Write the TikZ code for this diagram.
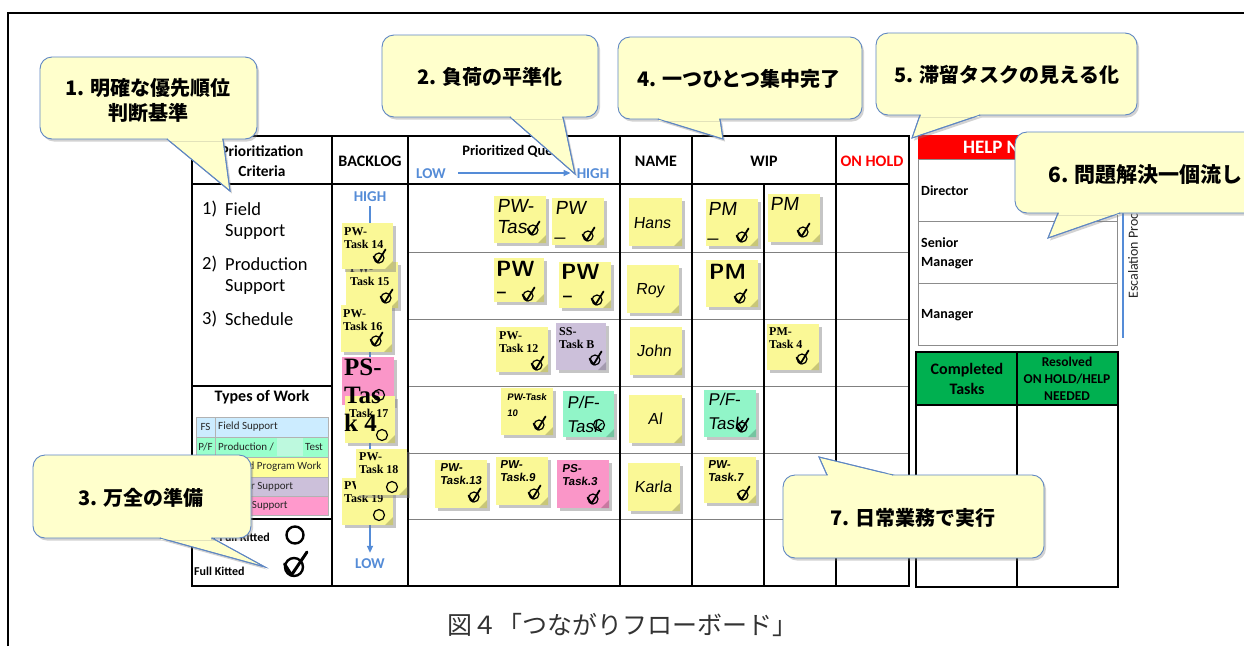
\documentclass[tikz,border=0pt]{standalone}
\usepackage{fontspec}
\setmainfont{Carlito}
\newfontfamily\cjk{Noto Sans CJK JP}
\newfontfamily\srf{Liberation Serif}
\newfontfamily\hand{Liberation Sans}[FakeSlant=0.12]
\usetikzlibrary{shadows,arrows.meta}
\definecolor{cfill}{RGB}{255,255,204}
\definecolor{cline}{RGB}{95,135,195}
\definecolor{sy}{RGB}{250,248,150}
\definecolor{sp}{RGB}{250,150,200}
\definecolor{su}{RGB}{204,192,218}
\definecolor{sg}{RGB}{145,245,200}
\definecolor{lfs}{RGB}{204,236,255}
\definecolor{lpf}{RGB}{153,255,204}
\definecolor{lpw}{RGB}{255,255,153}
\definecolor{lss}{RGB}{204,192,218}
\definecolor{lps}{RGB}{255,153,204}
\definecolor{qblue}{RGB}{85,140,215}
\definecolor{hred}{RGB}{255,0,0}
\definecolor{hgreen}{RGB}{0,176,80}
\definecolor{rowgray}{RGB}{128,128,128}
\tikzset{
  callout/.style={fill=cfill, draw=cline, line width=0.9pt, drop shadow={shadow xshift=2pt,shadow yshift=-2.5pt,opacity=0.35}},
  ctext/.style={font=\cjk\bfseries\fontsize{20}{25}\selectfont, align=center, inner sep=0},
  stickybox/.style={draw=none, inner sep=0, drop shadow={shadow xshift=2.5pt, shadow yshift=-3pt, opacity=0.45}},
  serifl/.style={font=\srf\bfseries\fontsize{12}{13}\selectfont, anchor=north west, inner sep=0, align=left},
  handl/.style={font=\hand\fontsize{19}{21}\selectfont, anchor=north west, inner sep=0, align=left},
  handb/.style={font=\hand\bfseries\fontsize{11.5}{13}\selectfont, anchor=north west, inner sep=0, align=left},
  boldpw/.style={font=\sffamily\bfseries\fontsize{22}{24}\selectfont, anchor=north west, inner sep=0, align=left},
  namel/.style={font=\hand\fontsize{16}{18}\selectfont, inner sep=0},
  hdr/.style={font=\bfseries\fontsize{16}{18}\selectfont, inner sep=0, align=center},
  bluet/.style={font=\bfseries\fontsize{15}{17}\selectfont, text=qblue, inner sep=0},
  crit/.style={font=\fontsize{18.5}{20}\selectfont, anchor=west, inner sep=0},
  legt/.style={font=\fontsize{11}{12}\selectfont, text=black!85, inner sep=0},
  mgrt/.style={font=\bfseries\fontsize{14}{19}\selectfont, anchor=west, align=left, inner sep=0},
  chk/.pic={\draw[line width=1.2pt] (0,0) circle (5);
            \draw[line width=1.8pt, line cap=round, line join=round] (-5.5,-1.5) -- (-1.5,4.5) -- (6.5,-8.5);},
  bigchk/.pic={\draw[line width=2.4pt] (0,0) circle (9);
            \draw[line width=3pt, line cap=round, line join=round] (-9.5,-3) -- (-2.5,8) -- (13,-15);},
  ring/.pic={\draw[line width=1.2pt] (0,0) circle (5.5);}
}
\newcommand\callout[9]{%
  \path[callout] (#7,#6) -- (#8) -- (#9,#6) -- cycle;
  \node[callout, rounded corners=12pt, inner sep=0, minimum width={#4-#2}, minimum height={#5-#3}] (#1) at ({(#2+#4)/2},{(#3+#5)/2}) {};
  \fill[cfill] ({#7+1.4},{#6-1.6}) rectangle ({#9-1.4},{#6+1.6});
  \draw[cline, line width=0.9pt] (#7,#6) -- (#8) -- (#9,#6);
}
\newcommand\sticky[6]{%
  \node[stickybox, fill=#6, minimum width={#4-#2}, minimum height={#5-#3}] (#1) at ({(#2+#4)/2},{(#3+#5)/2}) {};
  \fill[#6!80!black] ({#4-8},#5) -- (#4,#5) -- (#4,{#5-8}) -- cycle;
}
\begin{document}
\begin{tikzpicture}[x=1pt,y=-1pt]
\useasboundingbox (0,0) rectangle (1244,646);
\clip (0,0) rectangle (1244,646);
\fill[white] (0,0) rectangle (1244,646);
\draw[line width=1.5pt] (8,646) -- (8,13) -- (1244,13);

% ---------- board grid
\foreach \y in {252,319,386,453,519} \draw[rowgray, line width=1pt] (408,\y) -- (909,\y);
\draw[line width=1.3pt] (192,136) rectangle (909,586);
\foreach \x in {332,408,620,692,836} \draw[line width=1.3pt] (\x,136) -- (\x,586);
\draw[line width=1.3pt] (764,184) -- (764,586);
\draw[line width=1.3pt] (192,184) -- (909,184);
\draw[line width=1.3pt] (192,386) -- (332,386) (192,519) -- (332,519);

% ---------- headers
\node[hdr, font=\bfseries\fontsize{15.4}{20}\selectfont] (hprio) at (262,161) {Prioritization\\Criteria};
\node[hdr] (hback) at (370,161) {BACKLOG};
\node[hdr, font=\bfseries\fontsize{14.5}{16}\selectfont] (hqueue) at (515,151) {Prioritized Queue};
\node[bluet] (qlow) at (431,174) {LOW};
\node[bluet] (qhigh) at (593,174) {HIGH};
\draw[qblue, line width=1.6pt, -{Triangle[length=7pt,width=6pt]}] ([xshift=12pt,yshift=1pt]qlow.east) -- ([xshift=-6pt,yshift=1pt]qhigh.west);
\node[hdr] (hname) at (656,161) {NAME};
\node[hdr] (hwip) at (764,161) {WIP};
\node[hdr, text=hred] (hhold) at (872,161) {ON HOLD};

% ---------- criteria
\node[crit] (c1n) at (202,209) {1)};
\node[crit] (c1a) at (225,209) {Field};
\node[crit] (c1b) at (225,232) {Support};
\node[crit] (c2n) at (202,264) {2)};
\node[crit] (c2a) at (225,264) {Production};
\node[crit] (c2b) at (225,287) {Support};
\node[crit] (c3n) at (202,319) {3)};
\node[crit] (c3a) at (225,319) {Schedule};

% ---------- types of work legend
\node[hdr, font=\bfseries\fontsize{16}{18}\selectfont] (tow) at (262,397) {Types of Work};
\fill[lfs] (196,417) rectangle (328,437);
\fill[lpf] (196,437) rectangle (328,457);
\fill[lpw] (196,457) rectangle (328,477);
\fill[lss] (196,477) rectangle (328,496);
\fill[lps] (196,496) rectangle (328,515);
\fill[sg!60!white] (277,438) rectangle (303,456);
\draw[black!30, line width=0.6pt] (196,417) rectangle (328,515) (215,417) -- (215,515)
  (196,437) -- (328,437) (196,457) -- (328,457) (196,477) -- (328,477) (196,496) -- (328,496);
\node[legt] (lfsA) at (205.5,427) {FS};
\node[legt, anchor=west] (lfsB) at (218,427) {Field Support};
\node[legt] (lpfA) at (205.5,447) {P/F};
\node[legt, anchor=west] (lpfB) at (218,447) {Production /};
\node[legt, anchor=west] (lpfC) at (305,447) {Test};
\node[legt, anchor=west] (lpwB) at (218,467) {Planned Program Work};
\node[legt, anchor=west] (lssB) at (218,486.5) {Supplier Support};
\node[legt, anchor=west] (lpsB) at (218,505.5) {Special Support};

% ---------- kitted
\node[legt, font=\bfseries\fontsize{12}{13}\selectfont, text=black, anchor=east] (nfk) at (270,537) {Not Full Kitted};
\draw[line width=2.4pt] (295,535) circle (8.5);
\node[legt, font=\bfseries\fontsize{12}{13}\selectfont, text=black, anchor=west] (fk) at (194,571) {Full Kitted};
\pic at (294,567) {bigchk};

% ---------- backlog
\node[bluet] (bhigh) at (370,197) {HIGH};
\node[bluet] (blow) at (370,564) {LOW};
\draw[qblue, line width=1.6pt, -{Triangle[length=7pt,width=6pt]}] ([yshift=-4pt]bhigh.south) -- ([yshift=6pt]blow.north);

\sticky{b15}{346}{262}{398}{308}{sy}
\node[serifl] (b15t) at (350,264) {PW-\\Task 15};
\pic at (386,298) {chk};
\sticky{b14}{342}{223}{393}{269}{sy}
\node[serifl] (b14t) at (344,227) {PW-\\Task 14};
\pic at (379,258) {chk};
\sticky{b16}{341}{305}{392}{352}{sy}
\node[serifl] (b16t) at (343,309) {PW-\\Task 16};
\pic at (376,341) {chk};
\sticky{bps}{342}{357}{394}{405}{sp}
\sticky{b17}{345}{396}{395}{443}{sy}
\node[serifl] (b17t) at (349,409) {Task 17};
\pic at (382,435) {ring};
\node[serifl, font=\srf\bfseries\fontsize{25}{28}\selectfont] (bpst) at (344,359) {PS-\\Tas\\k 4};
\pic at (379,395) {ring};
\sticky{b19}{342}{478}{393}{525}{sy}
\node[serifl] (b19t) at (344,481) {PW-\\Task 19};
\pic at (379,515) {ring};
\sticky{b18}{356}{449}{407}{495}{sy}
\node[serifl] (b18t) at (359,452) {PW-\\Task 18};
\pic at (392,487) {ring};

% ---------- queue
\sticky{q1a}{494}{196}{546}{243}{sy}
\node[handl] (q1at) at (497,199) {PW-\\Tas};
\pic at (533,230) {chk};
\sticky{q1b}{552}{198}{604}{245}{sy}
\node[handl] (q1bt) at (555,201) {PW\\\_};
\pic at (588,236) {chk};
\sticky{q2a}{494}{258}{544}{302}{sy}
\node[boldpw] (q2at) at (496,261) {PW};
\node[boldpw, font=\sffamily\bfseries\fontsize{12}{12}\selectfont] (q2au) at (497,291) {\_};
\pic at (528,296) {chk};
\sticky{q2b}{559}{262}{611}{308}{sy}
\node[boldpw] (q2bt) at (561,264) {PW};
\node[boldpw, font=\sffamily\bfseries\fontsize{12}{12}\selectfont] (q2bu) at (563,295) {\_};
\pic at (597,300) {chk};
\sticky{q3a}{496}{327}{548}{372}{sy}
\node[serifl] (q3at) at (499,331) {PW-\\Task 12};
\pic at (537,365) {chk};
\sticky{q3b}{556}{323}{606}{370}{su}
\node[serifl] (q3bt) at (559,327) {SS-\\Task B};
\pic at (595,360) {chk};
\sticky{q4a}{501}{388}{553}{435}{sy}
\node[handb, font=\hand\bfseries\fontsize{9.5}{16}\selectfont] (q4at) at (507,393) {PW-Task\\10};
\pic at (539,425) {chk};
\sticky{q4b}{563}{391}{614}{437}{sg}
\node[handl, font=\hand\fontsize{17}{24}\selectfont] (q4bt) at (567,396) {P/F-\\Task};
\pic at (599,425) {ring};
\sticky{q5a}{435}{460}{487}{508}{sy}
\node[handb] (q5at) at (440,463) {PW-\\Task.13};
\pic at (474,497) {chk};
\sticky{q5b}{496}{457}{548}{505}{sy}
\node[handb] (q5bt) at (500,460) {PW-\\Task.9};
\pic at (534,494) {chk};
\sticky{q5c}{557}{460}{609}{508}{sp}
\node[handb] (q5ct) at (562,464) {PS-\\Task.3};
\pic at (593,499) {chk};

% ---------- names
\sticky{nh}{629}{198}{682}{246}{sy}
\node[namel] (nht) at (652,223) {Hans};
\sticky{nr}{627}{265}{679}{313}{sy}
\node[namel] (nrt) at (650,291) {Roy};
\sticky{nj}{630}{327}{682}{375}{sy}
\node[namel] (njt) at (654,351) {John};
\sticky{na}{629}{395}{682}{443}{sy}
\node[namel] (nat) at (655,419) {Al};
\sticky{nk}{628}{463}{680}{511}{sy}
\node[namel] (nkt) at (653,487) {Karla};

% ---------- WIP
\sticky{w1a}{706}{199}{758}{246}{sy}
\node[handl] (w1at) at (708,202) {PM\\\_};
\pic at (742,237) {chk};
\sticky{w1b}{768}{194}{820}{242}{sy}
\node[handl] (w1bt) at (770,197) {PM};
\pic at (803,232) {chk};
\sticky{w2a}{706}{260}{758}{307}{sy}
\node[boldpw] (w2at) at (709,264) {PM};
\pic at (740,298) {chk};
\sticky{w3b}{767}{324}{819}{370}{sy}
\node[serifl] (w3bt) at (769,327) {PM-\\Task 4};
\pic at (802,359) {chk};
\sticky{w4a}{704}{390}{756}{437}{sg}
\node[handl, font=\hand\fontsize{17}{24}\selectfont] (w4at) at (708,393) {P/F-\\Task};
\pic at (742,427) {chk};
\sticky{w5a}{704}{457}{756}{503}{sy}
\node[handb] (w5at) at (708,460) {PW-\\Task.7};
\pic at (743,495) {chk};

% ---------- help needed
\fill[hred] (918,135) rectangle (1117,159);
\node[hdr, font=\bfseries\fontsize{19}{21}\selectfont, text=white] (help) at (1017,147) {HELP NEEDED};
\draw[black!45, line width=0.8pt] (918,159) rectangle (1117,345) (918,221) -- (1117,221) (918,283) -- (1117,283);
\node[mgrt] (dir) at (921,191) {Director};
\node[mgrt] (smg) at (921,253) {Senior\\Manager};
\node[mgrt] (mgr) at (921,315) {Manager};
\draw[qblue, line width=1.5pt] (1123,165) -- (1123,338);
\node[rotate=90, anchor=west, inner sep=0, font=\fontsize{14}{16}\selectfont, text=black!85] (esc) at (1133,299) {Escalation Process};

% ---------- completed
\fill[hgreen] (916,352) rectangle (1118,405);
\draw[line width=1.2pt] (916,352) rectangle (1118,587) (1017,352) -- (1017,587) (916,405) -- (1118,405);
\node[hdr, font=\bfseries\fontsize{16}{20}\selectfont] (comp) at (967,379) {Completed\\Tasks};
\node[hdr, font=\bfseries\fontsize{13.5}{17}\selectfont] (resv) at (1067,379) {Resolved\\ON HOLD/HELP\\NEEDED};

% ---------- callouts
\callout{co1}{40}{57}{257}{139}{139}{167}{230,191}{223}
\node[ctext] (co1t) at (148,100) {1. 明確な優先順位\\判断基準};
\callout{co2}{382}{35}{598}{117}{117}{510}{575,174}{563}
\node[ctext] (co2t) at (490,77) {2. 負荷の平準化};
\callout{co4}{618}{37}{862}{119}{119}{658}{723,139}{720}
\node[ctext] (co4t) at (739,79) {4. 一つひとつ集中完了};
\callout{co5}{876}{33}{1137}{115}{115}{920}{912,138}{980}
\node[ctext] (co5t) at (1007,75) {5. 滞留タスクの見える化};
\callout{co6}{1015}{132}{1275}{213}{213}{1058}{1048,238}{1120}
\node[ctext, anchor=west, font=\cjk\bfseries\fontsize{21}{25}\selectfont] (co6t) at (1048,175) {6. 問題解決一個流し};
\callout{co3}{33}{455}{251}{538}{538}{160}{265,567}{212}
\node[ctext] (co3t) at (141,498) {3. 万全の準備};
\callout{co7}{783}{475}{1044}{558}{475}{827}{819,457}{893}
\node[ctext] (co7t) at (913,518) {7. 日常業務で実行};

% ---------- caption
\node[font=\cjk\fontsize{25}{28}\selectfont, text=black!80, inner sep=0] (cap) at (622,625) {図４「つながりフローボード」};
\end{tikzpicture}
\end{document}
